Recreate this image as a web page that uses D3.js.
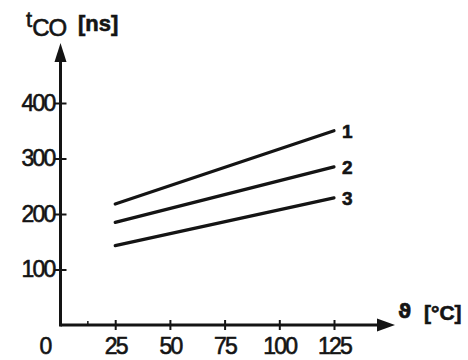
<!DOCTYPE html>
<html><head><meta charset="utf-8">
<script src="https://cdn.jsdelivr.net/npm/d3@7"></script>
<style>
body{margin:0;background:#fff;}
text{font-family:"Liberation Sans","DejaVu Sans",sans-serif;fill:#141414;stroke:#141414;stroke-width:0.6px;}
</style></head>
<body><svg id="c" width="468" height="360"></svg>
<script>
const temps = [25, 125];
const seriesNames = ["1", "2", "3"];
const series1 = [218, 350];
const series2 = [185, 285];
const series3 = [143, 229];
const xTicks = [25, 50, 75, 100, 125];
const yTicks = [100, 200, 300, 400];

const svg = d3.select("#c");
const ink = "#141414";
const x = d3.scaleLinear().domain([0, 125]).range([60.5, 334]);
const y = d3.scaleLinear().domain([0, 400]).range([325, 103]);

// axes lines
svg.append("line").attr("x1", x(0)).attr("x2", 382).attr("y1", y(0)).attr("y2", y(0))
  .attr("stroke", ink).attr("stroke-width", 3);
svg.append("line").attr("x1", x(0)).attr("x2", x(0)).attr("y1", y(0)+1.5).attr("y2", 58)
  .attr("stroke", ink).attr("stroke-width", 3);
// arrowheads
svg.append("path").attr("d", `M${x(0)-6},62 L${x(0)},43 L${x(0)+6},62 Z`).attr("fill", ink);
svg.append("path").attr("d", `M377,${y(0)-6.5} L395,${y(0)} L377,${y(0)+6.5} Z`).attr("fill", ink);

// x axis ticks via d3 axis
const xAxis = d3.axisBottom(x).tickValues(xTicks).tickSize(0).tickPadding(13);
const gx = svg.append("g").attr("transform", `translate(0,${y(0)})`).call(xAxis);
gx.select(".domain").remove();
gx.selectAll("text").attr("font-size", 23).attr("fill", ink).attr("letter-spacing", -1.8)
  .style("font-family", "Liberation Sans, sans-serif");
gx.selectAll(".tick").append("line").attr("y1", -5).attr("y2", 5).attr("stroke", ink).attr("stroke-width", 2);
// minor tick near origin
svg.append("line").attr("x1", x(12.5)).attr("x2", x(12.5)).attr("y1", y(0)-4).attr("y2", y(0))
  .attr("stroke", ink).attr("stroke-width", 1.5);

// y axis
const yAxis = d3.axisLeft(y).tickValues(yTicks).tickSize(0).tickPadding(6);
const gy = svg.append("g").attr("transform", `translate(${x(0)},0)`).call(yAxis);
gy.select(".domain").remove();
gy.selectAll("text").attr("font-size", 23).attr("fill", ink).attr("letter-spacing", -1.8)
  .style("font-family", "Liberation Sans, sans-serif");
gy.selectAll(".tick").append("line").attr("x1", -6).attr("x2", 6).attr("stroke", ink).attr("stroke-width", 2);

// origin label
svg.append("text").attr("x", 46).attr("y", 354).attr("text-anchor", "middle")
  .attr("font-size", 23).text("0");

// lines
const line = d3.line().x((d, i) => x(temps[i])).y(d => y(d));
const all = [series1, series2, series3];
all.forEach((s, k) => {
  svg.append("path").attr("d", line(s)).attr("fill", "none").attr("stroke", ink)
    .attr("stroke-width", 3.2).attr("stroke-linecap", "round");
  svg.append("text").attr("x", x(temps[1]) + 8).attr("y", y(s[1]) + 7)
    .attr("font-size", 19).attr("font-weight", "bold").text(seriesNames[k]);
});

// axis titles
const t = svg.append("text").attr("x", 26).attr("y", 27).attr("font-size", 22);
t.append("tspan").text("t");
t.append("tspan").attr("dy", 9).attr("font-size", 24).attr("letter-spacing", -1).text("CO");
svg.append("text").attr("x", 78).attr("y", 31).attr("font-size", 22).attr("font-weight", "bold").text("[ns]");

svg.append("text").attr("x", 398).attr("y", 318).attr("font-size", 20).attr("font-weight", "bold")
  .style("font-family", "DejaVu Sans, sans-serif").text("ϑ");
svg.append("text").attr("x", 424).attr("y", 320).attr("font-size", 21).attr("font-weight", "bold").text("[°C]");
</script></body></html>
